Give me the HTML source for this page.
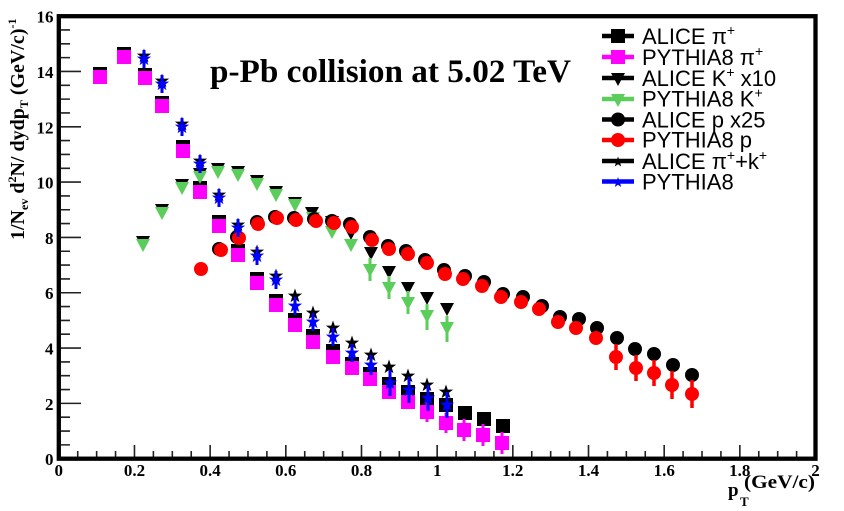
<!DOCTYPE html>
<html><head><meta charset="utf-8"><style>
html,body{margin:0;padding:0;background:#fff;}
svg{display:block;}
.tk{font-family:"Liberation Serif",serif;font-weight:bold;font-size:17px;fill:#000;}
.lg{font-family:"Liberation Sans",sans-serif;font-size:22px;fill:#000;}
</style></head><body>
<svg width="844" height="511" viewBox="0 0 844 511" xmlns="http://www.w3.org/2000/svg">
<defs>
<rect id="sq" x="-7" y="-7" width="14" height="14"/>
<circle id="ci" r="7"/>
<polygon id="tr" points="-7,-6 7,-6 0,7"/>
<polygon id="st" points="0,-7.5 1.76,-2.43 7.13,-2.32 2.85,0.93 4.41,6.07 0,3 -4.41,6.07 -2.85,0.93 -7.13,-2.32 -1.76,-2.43"/>
<polygon id="sts" points="0,-5.5 1.3,-1.8 5.2,-1.7 2.1,0.7 3.2,4.5 0,2.2 -3.2,4.5 -2.1,0.7 -5.2,-1.7 -1.3,-1.8"/>
</defs>
<rect width="844" height="511" fill="#fff"/>

<!-- ticks -->
<path stroke="#222" stroke-width="1.6" fill="none" d="
M61 444.87H70 M61 431.04H70 M61 417.21H70 M61 403.38H81 M61 389.55H70 M61 375.72H70 M61 361.89H70 M61 348.06H81
M61 334.23H70 M61 320.4H70 M61 306.57H70 M61 292.74H81 M61 278.91H70 M61 265.08H70 M61 251.25H70 M61 237.42H81
M61 223.59H70 M61 209.76H70 M61 195.93H70 M61 182.1H81 M61 168.27H70 M61 154.44H70 M61 140.61H70 M61 126.78H81
M61 112.95H70 M61 99.12H70 M61 85.29H70 M61 71.46H81 M61 57.63H70 M61 43.8H70 M61 29.97H70
M77.72 457V451 M96.64 457V451 M115.55 457V451 M134.47 457V445 M153.39 457V451 M172.31 457V451 M191.23 457V451 M210.14 457V445
M229.06 457V451 M247.98 457V451 M266.9 457V451 M285.82 457V445 M304.73 457V451 M323.65 457V451 M342.57 457V451 M361.49 457V445
M380.41 457V451 M399.32 457V451 M418.24 457V451 M437.16 457V445 M456.08 457V451 M475 457V451 M493.91 457V451 M512.83 457V445
M531.75 457V451 M550.67 457V451 M569.59 457V451 M588.5 457V445 M607.42 457V451 M626.34 457V451 M645.26 457V451 M664.18 457V445
M683.09 457V451 M702.01 457V451 M720.93 457V451 M739.85 457V445 M758.77 457V451 M777.68 457V451 M796.6 457V451"/>

<!-- y tick labels -->
<g class="tk" text-anchor="end">
<text x="53.5" y="465">0</text>
<text x="53.5" y="410">2</text>
<text x="53.5" y="354.6">4</text>
<text x="53.5" y="299.2">6</text>
<text x="53.5" y="243.9">8</text>
<text x="53.5" y="188.6">10</text>
<text x="53.5" y="133.3">12</text>
<text x="53.5" y="78">14</text>
<text x="53.5" y="22.6">16</text>
</g>
<g class="tk" text-anchor="middle">
<text x="58.8" y="476">0</text>
<text x="134.5" y="476">0.2</text>
<text x="210.1" y="476">0.4</text>
<text x="285.8" y="476">0.6</text>
<text x="361.5" y="476">0.8</text>
<text x="437.2" y="476">1</text>
<text x="512.8" y="476">1.2</text>
<text x="588.5" y="476">1.4</text>
<text x="664.2" y="476">1.6</text>
<text x="739.8" y="476">1.8</text>
<text x="815.5" y="476">2</text>
</g>

<!-- axis titles -->
<text transform="translate(24,240) rotate(-90)" font-family="Liberation Serif,serif" font-weight="bold" font-size="20" fill="#000">1/N<tspan font-size="12" dy="4">ev</tspan><tspan dy="-4"> d</tspan><tspan font-size="12" dy="-8">2</tspan><tspan dy="8">N/ dydp</tspan><tspan font-size="12" dy="4">T</tspan><tspan dy="-4"> (GeV/c)</tspan><tspan font-size="12" dy="-8">-1</tspan></text>
<text x="728" y="496" font-family="Liberation Serif,serif" font-weight="bold" font-size="19" fill="#000">p</text>
<text x="740" y="506" font-family="Liberation Serif,serif" font-weight="bold" font-size="13" fill="#000">T</text>
<text x="744" y="488" font-family="Liberation Serif,serif" font-weight="bold" font-size="19" fill="#000" textLength="71" lengthAdjust="spacingAndGlyphs">(GeV/c)</text>

<!-- title -->
<text x="210" y="82" font-family="Liberation Serif,serif" font-weight="bold" font-size="32.5" fill="#000" textLength="361" lengthAdjust="spacingAndGlyphs">p-Pb collision at 5.02 TeV</text>

<!-- ALICE pi (black squares) -->
<g fill="#000">
<use href="#sq" x="100" y="74"/><use href="#sq" x="124" y="54"/><use href="#sq" x="145" y="75"/><use href="#sq" x="162" y="103"/>
<use href="#sq" x="183" y="147"/><use href="#sq" x="200" y="188"/><use href="#sq" x="219" y="222"/><use href="#sq" x="238" y="251"/>
<use href="#sq" x="257" y="279"/><use href="#sq" x="276" y="301"/><use href="#sq" x="295" y="320"/><use href="#sq" x="313" y="336"/>
<use href="#sq" x="333" y="351"/><use href="#sq" x="352" y="364"/><use href="#sq" x="370" y="374"/><use href="#sq" x="389" y="384"/>
<use href="#sq" x="408" y="392"/><use href="#sq" x="427" y="399"/><use href="#sq" x="446" y="405"/><use href="#sq" x="465" y="413"/>
<use href="#sq" x="484" y="419"/><use href="#sq" x="503" y="426"/>
</g>
<!-- PYTHIA pi (magenta) -->
<path stroke="#ff00ff" stroke-width="3" d="M427 402V422 M446 413V433 M464 419V441 M483 424V446 M502 432V454"/>
<g fill="#ff00ff">
<use href="#sq" x="100" y="77"/><use href="#sq" x="124" y="57"/><use href="#sq" x="145" y="78"/><use href="#sq" x="162" y="106"/>
<use href="#sq" x="183" y="151"/><use href="#sq" x="200" y="192"/><use href="#sq" x="219" y="226"/><use href="#sq" x="238" y="255"/>
<use href="#sq" x="257" y="283"/><use href="#sq" x="276" y="305"/><use href="#sq" x="295" y="325"/><use href="#sq" x="313" y="342"/>
<use href="#sq" x="333" y="357"/><use href="#sq" x="352" y="368"/><use href="#sq" x="370" y="379"/><use href="#sq" x="389" y="392"/>
<use href="#sq" x="408" y="402"/><use href="#sq" x="427" y="412"/><use href="#sq" x="446" y="423"/><use href="#sq" x="464" y="430"/>
<use href="#sq" x="483" y="435"/><use href="#sq" x="502" y="443"/>
</g>

<!-- ALICE K (black triangles) -->
<g fill="#000">
<use href="#tr" x="143" y="242"/><use href="#tr" x="162" y="210"/><use href="#tr" x="182" y="185"/><use href="#tr" x="200" y="174"/>
<use href="#tr" x="218" y="169"/><use href="#tr" x="238" y="172"/><use href="#tr" x="257" y="181"/><use href="#tr" x="276" y="192"/>
<use href="#tr" x="295" y="203"/><use href="#tr" x="312" y="213"/><use href="#tr" x="332" y="222"/><use href="#tr" x="351" y="233"/>
<use href="#tr" x="371" y="253"/><use href="#tr" x="389" y="272"/><use href="#tr" x="408" y="288"/><use href="#tr" x="427" y="298"/>
<use href="#tr" x="447" y="309"/>
</g>
<!-- PYTHIA K (green) -->
<path stroke="#5acd5a" stroke-width="3" d="M370 258V281 M389 276V299 M408 291V314 M427 304V330 M447 316V342"/>
<g fill="#5acd5a">
<use href="#tr" x="143" y="245"/><use href="#tr" x="162" y="213"/><use href="#tr" x="182" y="188"/><use href="#tr" x="200" y="177"/>
<use href="#tr" x="218" y="172"/><use href="#tr" x="238" y="175"/><use href="#tr" x="257" y="184"/><use href="#tr" x="276" y="195"/>
<use href="#tr" x="295" y="205"/><use href="#tr" x="313" y="218"/><use href="#tr" x="332" y="232"/><use href="#tr" x="351" y="245"/>
<use href="#tr" x="370" y="270"/><use href="#tr" x="389" y="288"/><use href="#tr" x="408" y="303"/><use href="#tr" x="427" y="316"/>
<use href="#tr" x="447" y="328"/>
</g>

<!-- ALICE p (black circles) -->
<g fill="#000">
<use href="#ci" x="219" y="249"/><use href="#ci" x="237" y="237"/><use href="#ci" x="257" y="222"/><use href="#ci" x="275" y="217"/>
<use href="#ci" x="294" y="218"/><use href="#ci" x="314" y="219"/><use href="#ci" x="332" y="221"/><use href="#ci" x="350" y="224"/>
<use href="#ci" x="370" y="237"/><use href="#ci" x="388" y="246"/><use href="#ci" x="406" y="251"/><use href="#ci" x="425" y="260"/>
<use href="#ci" x="444" y="270"/><use href="#ci" x="465" y="276"/><use href="#ci" x="484" y="282"/><use href="#ci" x="503" y="294"/>
<use href="#ci" x="523" y="297"/><use href="#ci" x="542" y="306"/><use href="#ci" x="560" y="317"/><use href="#ci" x="579" y="319"/>
<use href="#ci" x="597" y="328"/><use href="#ci" x="617" y="338"/><use href="#ci" x="635" y="349"/><use href="#ci" x="654" y="354"/>
<use href="#ci" x="673" y="365"/><use href="#ci" x="692" y="375"/>
</g>
<!-- PYTHIA p (red) -->
<path stroke="#ff0000" stroke-width="3.5" d="M616 344V370 M636 355V381 M654 360V386 M672 371V399 M692 380V408"/>
<g fill="#ff0000">
<use href="#ci" x="201" y="269"/><use href="#ci" x="221" y="250"/><use href="#ci" x="239" y="238"/><use href="#ci" x="258" y="224"/>
<use href="#ci" x="277" y="218"/><use href="#ci" x="296" y="220"/><use href="#ci" x="316" y="221"/><use href="#ci" x="334" y="223"/>
<use href="#ci" x="352" y="227"/><use href="#ci" x="372" y="240"/><use href="#ci" x="389" y="249"/><use href="#ci" x="408" y="254"/>
<use href="#ci" x="427" y="263"/><use href="#ci" x="445" y="274"/><use href="#ci" x="463" y="279"/><use href="#ci" x="482" y="286"/>
<use href="#ci" x="501" y="297"/><use href="#ci" x="521" y="302"/><use href="#ci" x="539" y="309"/><use href="#ci" x="558" y="322"/>
<use href="#ci" x="576" y="328"/><use href="#ci" x="596" y="338"/><use href="#ci" x="616" y="357"/><use href="#ci" x="636" y="368"/>
<use href="#ci" x="654" y="373"/><use href="#ci" x="672" y="385"/><use href="#ci" x="692" y="394"/>
</g>

<!-- ALICE pi+K (black stars) -->
<g fill="#000">
<use href="#st" x="144" y="56"/><use href="#st" x="162" y="81"/><use href="#st" x="182" y="124"/><use href="#st" x="200" y="161"/>
<use href="#st" x="219" y="195"/><use href="#st" x="238" y="225"/><use href="#st" x="257" y="252"/><use href="#st" x="276" y="276"/>
<use href="#st" x="295" y="296"/><use href="#st" x="313" y="313"/><use href="#st" x="333" y="328"/><use href="#st" x="352" y="343"/>
<use href="#st" x="371" y="355"/><use href="#st" x="389" y="367"/><use href="#st" x="408" y="376"/><use href="#st" x="427" y="385"/>
<use href="#st" x="446" y="392"/>
</g>
<!-- PYTHIA8 (blue stars) -->
<path stroke="#0000ff" stroke-width="3" d="M144 50V68 M162 75V93 M182 118V136 M200 155V173 M219 189V207 M238 219V237 M257 247V265 M276 271V289
M295 297V315 M313 313V331 M333 328V346 M352 344V362 M371 355V375 M390 370V396 M409 377V403 M428 385V411 M447 392V418"/>
<g fill="#0000ff">
<use href="#st" x="144" y="59"/><use href="#st" x="162" y="84"/><use href="#st" x="182" y="127"/><use href="#st" x="200" y="164"/>
<use href="#st" x="219" y="198"/><use href="#st" x="238" y="228"/><use href="#st" x="257" y="256"/><use href="#st" x="276" y="280"/>
<use href="#st" x="295" y="306"/><use href="#st" x="313" y="322"/><use href="#st" x="333" y="337"/><use href="#st" x="352" y="353"/>
<use href="#st" x="371" y="365"/><use href="#st" x="390" y="383"/><use href="#st" x="409" y="390"/><use href="#st" x="428" y="398"/>
<use href="#st" x="447" y="405"/>
</g>

<!-- legend -->
<path stroke-width="4.5" d="M602 36H634" stroke="#000"/><use href="#sq" x="618" y="36" fill="#000"/>
<path stroke-width="4.5" d="M602 57H634" stroke="#ff00ff"/><use href="#sq" x="618" y="57" fill="#ff00ff"/>
<path stroke-width="4.5" d="M602 78H634" stroke="#000"/><use href="#tr" x="618" y="79" fill="#000"/>
<path stroke-width="4.5" d="M602 99H634" stroke="#5acd5a"/><use href="#tr" x="618" y="100" fill="#5acd5a"/>
<path stroke-width="4.5" d="M602 119.5H634" stroke="#000"/><use href="#ci" x="618" y="119.5" fill="#000"/>
<path stroke-width="4.5" d="M602 140H634" stroke="#ff0000"/><use href="#ci" x="618" y="140" fill="#ff0000"/>
<path stroke-width="4.5" d="M602 161H634" stroke="#000"/><use href="#sts" x="618" y="162" fill="#000"/>
<path stroke-width="4.5" d="M602 181.5H634" stroke="#0000ff"/><use href="#sts" x="618" y="182.5" fill="#0000ff"/>
<g class="lg">
<text x="642" y="44">ALICE π<tspan font-size="14" dy="-9">+</tspan></text>
<text x="642" y="65">PYTHIA8 π<tspan font-size="14" dy="-9">+</tspan></text>
<text x="642" y="86">ALICE K<tspan font-size="14" dy="-9">+</tspan><tspan dy="9"> x10</tspan></text>
<text x="642" y="106.7">PYTHIA8 K<tspan font-size="14" dy="-9">+</tspan></text>
<text x="642" y="127.3">ALICE p x25</text>
<text x="642" y="147.7">PYTHIA8 p</text>
<text x="642" y="169">ALICE π<tspan font-size="14" dy="-9">+</tspan><tspan dy="9">+k</tspan><tspan font-size="14" dy="-9">+</tspan></text>
<text x="642" y="189.3">PYTHIA8</text>
</g>

<!-- frame -->
<rect x="58.8" y="16.2" width="756.7" height="442.5" fill="none" stroke="#000" stroke-width="4.3"/>
</svg>
</body></html>
